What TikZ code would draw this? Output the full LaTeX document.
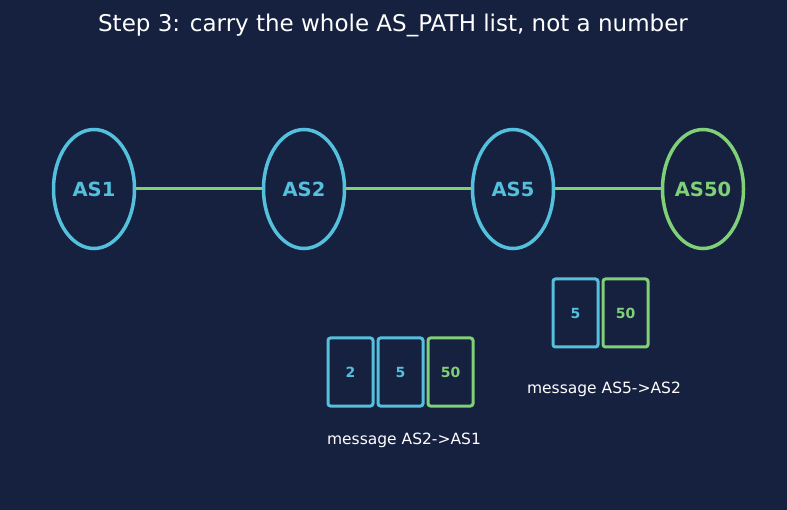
\documentclass[tikz,border=0pt]{standalone}
\usepackage{fontspec}
\setmainfont{DejaVu Sans}
\usepackage{tikz}
\usetikzlibrary{shapes, positioning}
\definecolor{bgblue}{RGB}{22,33,64}
\definecolor{ascyan}{RGB}{84,192,220}
\definecolor{asgreen}{RGB}{128,208,120}
\tikzstyle{asnode} = [ellipse, draw=ascyan, line width=3.5pt, inner sep=0pt, minimum width=81pt, minimum height=119pt, text=ascyan, font=\fontsize{19.5}{22}\selectfont\bfseries]
\tikzstyle{hopbox} = [rectangle, draw=ascyan, line width=3pt, rounded corners=2.5pt, inner sep=0pt, minimum width=45pt, minimum height=68pt, text=ascyan, font=\fontsize{14}{16}\selectfont\bfseries]
\tikzstyle{msglabel} = [text=white, font=\fontsize{15.5}{18}\selectfont]
\tikzstyle{peerline} = [asgreen, line width=3pt]

\begin{document}
\begin{tikzpicture}[x=1pt, y=-1pt]
        \fill[bgblue] (0, 0) rectangle (787, 510);
        \node[text=white, font=\fontsize{23}{27}\selectfont] at (393, 25) (Title) {Step 3: carry the whole AS\_PATH list, not a number};

        \node[asnode] at (94, 189) (AS1) {AS1};
        \node[asnode] at (304, 189) (AS2) {AS2};
        \node[asnode] at (513, 189) (AS5) {AS5};
        \node[asnode, draw=asgreen, text=asgreen] at (703, 189) (AS50) {AS50};

        \draw[peerline] (AS1) -- (AS2);
        \draw[peerline] (AS2) -- (AS5);
        \draw[peerline] (AS5) -- (AS50);

        % path sent from AS2 to AS1
        \node[hopbox] at (350.5, 372) (HopTwoA) {2};
        \node[hopbox] at (400.5, 372) (HopFiveA) {5};
        \node[hopbox, draw=asgreen, text=asgreen] at (450.5, 372) (HopFiftyA) {50};
        \node[msglabel] at (404, 440) (MsgTwoOne) {message AS2->AS1};

        % path sent from AS5 to AS2
        \node[hopbox] at (575.5, 313) (HopFiveB) {5};
        \node[hopbox, draw=asgreen, text=asgreen] at (625.5, 313) (HopFiftyB) {50};
        \node[msglabel] at (604, 389) (MsgFiveTwo) {message AS5->AS2};
    \end{tikzpicture}
\end{document}
